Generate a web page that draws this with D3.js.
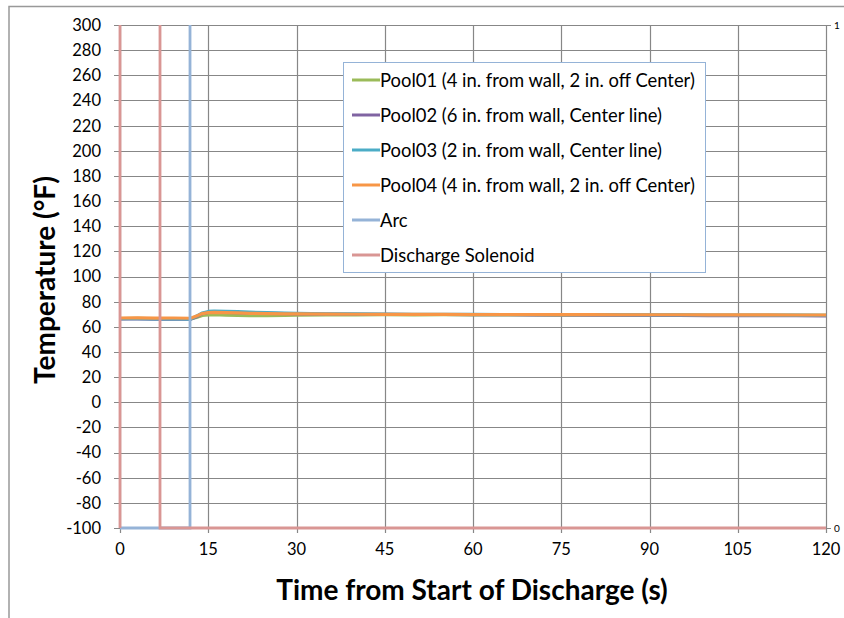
<!DOCTYPE html>
<html><head><meta charset="utf-8">
<script src="https://cdn.jsdelivr.net/npm/d3@7"></script>
<style>body{margin:0;background:#fff;} svg{display:block;font-family:Lato,"Open Sans",sans-serif;}</style>
</head><body>
<script>
const times = [0,3,6,9,12,13,14,15,16,18,20,22,25,28,30,35,40,45,50,55,60,65,70,75,80,85,90,95,100,105,110,115,120];
const pool01 = [66.5,66.8,66.4,66.6,66.3,67.5,69,69.5,69.6,69.2,69,68.8,68.9,69,69.2,69.4,69.5,69.6,69.5,69.6,69.5,69.4,69.5,69.3,69.4,69.3,69.2,69.3,69.2,69.1,69.2,69.1,69.2];
const pool02 = [66.2,66.3,66.0,66.2,66.0,68,70.5,71.5,71.8,71.5,71.2,70.9,70.6,70.4,70.3,70.1,70,69.9,69.8,69.8,69.7,69.6,69.5,69.4,69.3,69.2,69.1,69.0,68.9,68.9,68.8,68.8,68.7];
const pool03 = [66.4,66.5,66.2,66.4,66.1,68.5,71,72.2,72.5,72.3,72,71.6,71.2,70.9,70.6,70.3,70.2,70.1,70,69.9,69.9,69.8,69.8,69.7,69.7,69.6,69.5,69.5,69.4,69.4,69.3,69.3,69.2];
const pool04 = [67,67.1,66.9,67,66.8,68.5,70.5,71.3,71.5,71.2,71,70.7,70.5,70.3,70.2,70.1,70,69.9,69.9,69.9,69.8,69.8,69.8,69.7,69.7,69.6,69.6,69.6,69.5,69.5,69.5,69.4,69.4];
const arcTimes = [0,11.9,11.9,120];
const arcValues = [0,0,1.05,1.05];
const solTimes = [0,0,6.8,6.8,120];
const solValues = [0,1.05,1.05,0,0];
const seriesNames = ["Pool01 (4 in. from wall, 2 in. off Center)","Pool02 (6 in. from wall, Center line)","Pool03 (2 in. from wall, Center line)","Pool04 (4 in. from wall, 2 in. off Center)","Arc","Discharge Solenoid"];
const seriesColors = ["#9bbb59","#8064a2","#4bacc6","#f79646","#95b3d7","#d99694"];
const xTicks = [0,15,30,45,60,75,90,105,120];
const yTicks = d3.range(-100,301,20);
const y2Ticks = [0,1];

const W=844,H=618;
const L=120,R=826,T=25,B=528;
const svg=d3.select("body").append("svg").attr("width",W).attr("height",H);
svg.append("rect").attr("x",9).attr("y",6.5).attr("width",W).attr("height",H).attr("fill","#fff").attr("stroke","#999").attr("stroke-width",1.5);

const x=d3.scaleLinear().domain([0,120]).range([L,R]);
const y=d3.scaleLinear().domain([-100,300]).range([B,T]);
const y2=d3.scaleLinear().domain([0,1]).range([B,T]);

const grid=svg.append("g");
grid.selectAll(".hy").data(yTicks).join("line").attr("x1",L-6).attr("x2",R).attr("y1",d=>Math.round(y(d))+0.5).attr("y2",d=>Math.round(y(d))+0.5).attr("stroke","#878787").attr("stroke-width",1.2);
grid.selectAll(".vx").data(xTicks).join("line").attr("x1",d=>Math.round(x(d))+0.5).attr("x2",d=>Math.round(x(d))+0.5).attr("y1",T).attr("y2",B+5).attr("stroke","#878787").attr("stroke-width",1.2);
grid.selectAll(".t2").data(y2Ticks).join("line").attr("x1",R).attr("x2",R+5).attr("y1",d=>Math.round(y2(d))+0.5).attr("y2",d=>Math.round(y2(d))+0.5).attr("stroke","#878787");

svg.append("g").selectAll("text").data(yTicks).join("text").attr("x",101).attr("y",d=>y(d)).attr("dy","0.36em").attr("text-anchor","end").attr("font-size",16.5).attr("fill","#000").text(d=>d);
svg.append("g").selectAll("text").data(xTicks).join("text").attr("x",d=>x(d)).attr("y",555).attr("text-anchor","middle").attr("font-size",16.5).attr("fill","#000").text(d=>d);
svg.append("g").selectAll("text").data(y2Ticks).join("text").attr("x",834).attr("y",d=>y2(d)).attr("dy","0.36em").attr("font-size",10).attr("fill","#000").text(d=>d);

svg.append("text").attr("x",472).attr("y",600).attr("text-anchor","middle").attr("font-size",28).attr("font-weight","bold").text("Time from Start of Discharge (s)");
svg.append("text").attr("transform","translate(55,280) rotate(-90)").attr("text-anchor","middle").attr("font-size",28).attr("font-weight","bold").text("Temperature (°F)");

svg.append("clipPath").attr("id","clip").append("rect").attr("x",L-2).attr("y",T).attr("width",R-L+4).attr("height",B-T+3);
const plot=svg.append("g").attr("clip-path","url(#clip)");
const line=d3.line().x(d=>x(d[0])).y(d=>y(d[1]));
const line2=d3.line().x(d=>x(d[0])).y(d=>y2(d[1]));
[pool01,pool02,pool03,pool04].forEach((vals,i)=>{
  plot.append("path").datum(times.map((t,j)=>[t,vals[j]])).attr("d",line).attr("fill","none").attr("stroke",seriesColors[i]).attr("stroke-width",3.2).attr("stroke-linejoin","round");
});
plot.append("path").datum(arcTimes.map((t,j)=>[t,arcValues[j]])).attr("d",line2).attr("fill","none").attr("stroke",seriesColors[4]).attr("stroke-width",2.8);
plot.append("path").datum(solTimes.map((t,j)=>[t,solValues[j]])).attr("d",line2).attr("fill","none").attr("stroke",seriesColors[5]).attr("stroke-width",2.8);

const lg=svg.append("g");
lg.append("rect").attr("x",343.5).attr("y",62.5).attr("width",362).attr("height",210).attr("fill","#fff").attr("stroke","#95b3d7").attr("stroke-width",1);
seriesNames.forEach((n,i)=>{
  const cy=80+i*35;
  lg.append("line").attr("x1",352).attr("x2",380).attr("y1",cy).attr("y2",cy).attr("stroke",seriesColors[i]).attr("stroke-width",3);
  lg.append("text").attr("x",380).attr("y",cy).attr("dy","0.36em").attr("font-size",18.4).attr("fill","#000").text(n);
});
</script>
</body></html>
